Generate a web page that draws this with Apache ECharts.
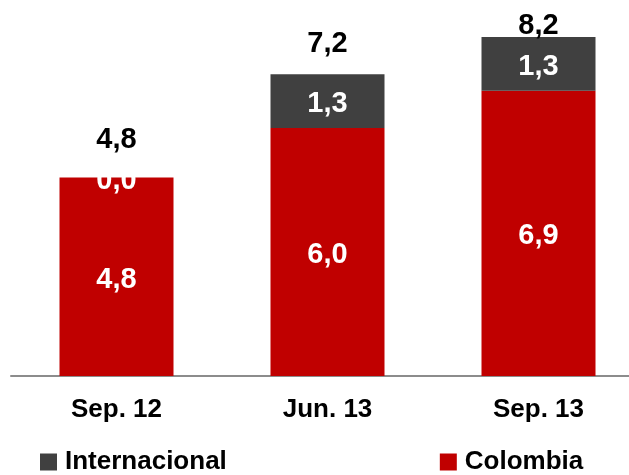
<!DOCTYPE html>
<html>
<head>
<meta charset="utf-8">
<script src="https://cdn.jsdelivr.net/npm/echarts@6/dist/echarts.min.js"></script>
<style>
    html,body{margin:0;padding:0;background:#fff;}
    #main{width:629px;height:475px;}
</style>
</head>
<body>
<div id="main"></div>
<script>
let categories = ['Sep. 12', 'Jun. 13', 'Sep. 13'];
let colombia = [4.8, 6.0, 6.9];
let internacional = [0.0, 1.3, 1.3];
let totals = [4.8, 7.2, 8.2];

// desplazamiento vertical de cada total (px)
let totalOffsets = [-38, -34, -11];

let fmt = function (p) {
    return p.value.toFixed(1).replace('.', ',');
};
let fontFam = '"Liberation Sans", Arial, sans-serif';

let totalData = [];
for (let i = 0; i < totals.length; i++) {
    totalData.push({
        value: totals[i],
        label: {offset: [0, totalOffsets[i]]}
    });
}

let option = {
    backgroundColor: '#ffffff',
    animation: false,
    grid: {
        left: 11,
        right: -15,
        top: 4,
        bottom: 99,
        containLabel: false,
        outerBoundsMode: 'none'
    },
    legend: {
        data: ['Internacional', 'Colombia'],
        left: 40,
        top: 449,
        padding: 0,
        itemGap: 213,
        itemWidth: 17,
        itemHeight: 17,
        icon: 'rect',
        textStyle: {
            color: '#000',
            fontSize: 26,
            fontWeight: 'bold',
            fontFamily: fontFam,
            padding: [0, 0, 0, 3]
        }
    },
    xAxis: {
        type: 'category',
        data: categories,
        axisLine: {
            lineStyle: {color: '#8c8c8c', width: 2}
        },
        axisTick: {show: false},
        axisLabel: {
            margin: 21,
            color: '#000',
            fontSize: 26,
            fontWeight: 'bold',
            fontFamily: fontFam
        }
    },
    yAxis: {
        type: 'value',
        min: 0,
        max: 9,
        show: false,
        splitLine: {show: false}
    },
    series: [
        {
            name: 'Colombia',
            type: 'bar',
            stack: 'total',
            barWidth: 114,
            itemStyle: {color: '#c00000'},
            label: {
                show: true,
                position: 'inside',
                offset: [0, 3],
                color: '#fff',
                fontSize: 29,
                fontWeight: 'bold',
                fontFamily: fontFam,
                formatter: fmt
            },
            data: colombia
        },
        {
            name: 'Internacional',
            type: 'bar',
            stack: 'total',
            barWidth: 114,
            itemStyle: {color: '#404040'},
            label: {
                show: true,
                position: 'inside',
                offset: [0, 3],
                color: '#fff',
                fontSize: 29,
                fontWeight: 'bold',
                fontFamily: fontFam,
                formatter: fmt
            },
            data: internacional
        },
        {
            name: 'Total',
            type: 'scatter',
            symbolSize: 1,
            itemStyle: {color: 'rgba(0,0,0,0)', opacity: 1},
            label: {
                show: true,
                position: 'inside',
                color: '#000',
                fontSize: 29,
                fontWeight: 'bold',
                fontFamily: fontFam,
                formatter: fmt
            },
            data: totalData
        }
    ]
};

let myChart = echarts.init(document.getElementById('main'));
myChart.setOption(option);
</script>
</body>
</html>
